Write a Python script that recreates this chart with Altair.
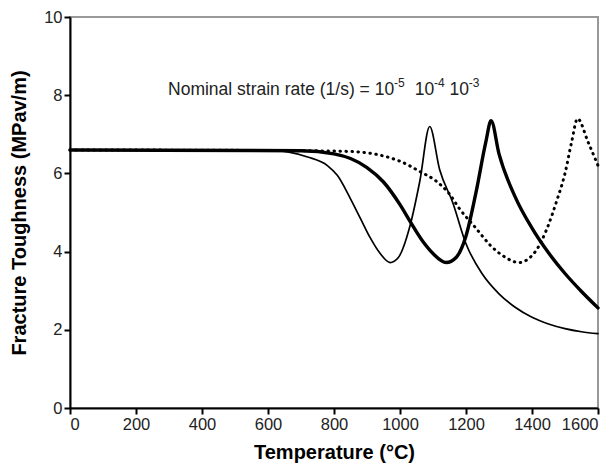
import altair as alt
import pandas as pd

# 10^-5 (thin solid)
t_a = [0, 600, 660, 720, 780, 810, 850, 880, 910, 940, 970, 995, 1030, 1060, 1090, 1120, 1160, 1200, 1250, 1300, 1350, 1400, 1450, 1500, 1550, 1600]
k_a = [6.6, 6.6, 6.55, 6.42, 6.2, 5.95, 5.35, 4.85, 4.35, 3.95, 3.72, 3.85, 4.65, 5.8, 7.2, 6.1, 5.25, 4.2, 3.42, 2.92, 2.57, 2.32, 2.15, 2.03, 1.95, 1.9]
# 10^-4 (thick solid)
t_b = [0, 700, 800, 850, 900, 950, 1000, 1030, 1070, 1100, 1140, 1170, 1200, 1230, 1260, 1276, 1300, 1350, 1400, 1450, 1500, 1550, 1600]
k_b = [6.6, 6.58, 6.5, 6.38, 6.15, 5.78, 5.2, 4.78, 4.25, 3.95, 3.72, 3.85, 4.4, 5.5, 6.8, 7.35, 6.5, 5.38, 4.6, 3.97, 3.44, 2.98, 2.56]
# 10^-3 (dotted)
t_c = [0, 700, 850, 1000, 1060, 1110, 1150, 1180, 1230, 1275, 1320, 1360, 1410, 1445, 1475, 1500, 1520, 1538, 1570, 1600]
k_c = [6.6, 6.58, 6.56, 6.31, 6.05, 5.8, 5.47, 5.1, 4.6, 4.15, 3.85, 3.72, 4.0, 4.58, 5.3, 6.0, 6.8, 7.4, 6.8, 6.2]

df_a = pd.DataFrame({"T": t_a, "K": k_a})
df_b = pd.DataFrame({"T": t_b, "K": k_b})
df_c = pd.DataFrame({"T": t_c, "K": k_c})

x_ticks = list(range(0, 1601, 50))
y_ticks = [i * 0.5 for i in range(0, 21)]

xs = alt.Scale(domain=[0, 1600], nice=False)
ys = alt.Scale(domain=[0, 10], nice=False)

x_axis = alt.Axis(values=x_ticks, format="d",
                  labelExpr="datum.value % 200 == 0 ? datum.label : ''",
                  title="Temperature (°C)", grid=False, titlePadding=10)
y_axis = alt.Axis(values=y_ticks, format="d",
                  labelExpr="datum.value % 2 == 0 ? datum.label : ''",
                  title="Fracture Toughness (MPav/m)", grid=False, titlePadding=14)

def line(df, width, dash=None):
    kw = dict(color="black", strokeWidth=width, interpolate="monotone", strokeCap="round")
    if dash:
        kw["strokeDash"] = dash
    return alt.Chart(df).mark_line(**kw).encode(
        x=alt.X("T:Q", scale=xs, axis=x_axis),
        y=alt.Y("K:Q", scale=ys, axis=y_axis),
    )

# annotation pieces
main_txt = ["Nominal strain rate (1/s) = 10", "10", "10"]
main_T = [297, 1045, 1150]
sup_txt = ["-5", "-4", "-3"]
sup_T = [982, 1103, 1208]

main_df = pd.DataFrame({"T": main_T, "K": [8.14] * 3, "txt": main_txt})
sup_df = pd.DataFrame({"T": sup_T, "K": [8.3] * 3, "txt": sup_txt})

main_lbl = alt.Chart(main_df).mark_text(
    align="left", baseline="middle", fontSize=17.5, font="Liberation Sans", color="#222"
).encode(x=alt.X("T:Q", scale=xs), y=alt.Y("K:Q", scale=ys), text="txt:N")
sup_lbl = alt.Chart(sup_df).mark_text(
    align="left", baseline="middle", fontSize=12, font="Liberation Sans", color="#222"
).encode(x=alt.X("T:Q", scale=xs), y=alt.Y("K:Q", scale=ys), text="txt:N")

chart = alt.layer(
    line(df_c, 3, [0.5, 5.5]),
    line(df_a, 1.7),
    line(df_b, 3.4),
    main_lbl,
    sup_lbl,
).properties(
    width=528, height=391,
    autosize=alt.AutoSizeParams(type="none"),
    padding={"left": 62, "top": 9, "right": 7, "bottom": 57},
).configure_axis(
    domainColor="black", domainWidth=2, tickColor="black", tickWidth=2, tickSize=6,
    labelFont="Liberation Sans", labelFontSize=16.5, labelColor="#222",
    titleFont="Liberation Sans", titleFontSize=20, titleFontWeight="bold", titleColor="black",
).configure_view(stroke="#999", strokeWidth=2)

chart.save("out.html", embed_options={"renderer": "svg", "actions": False})
